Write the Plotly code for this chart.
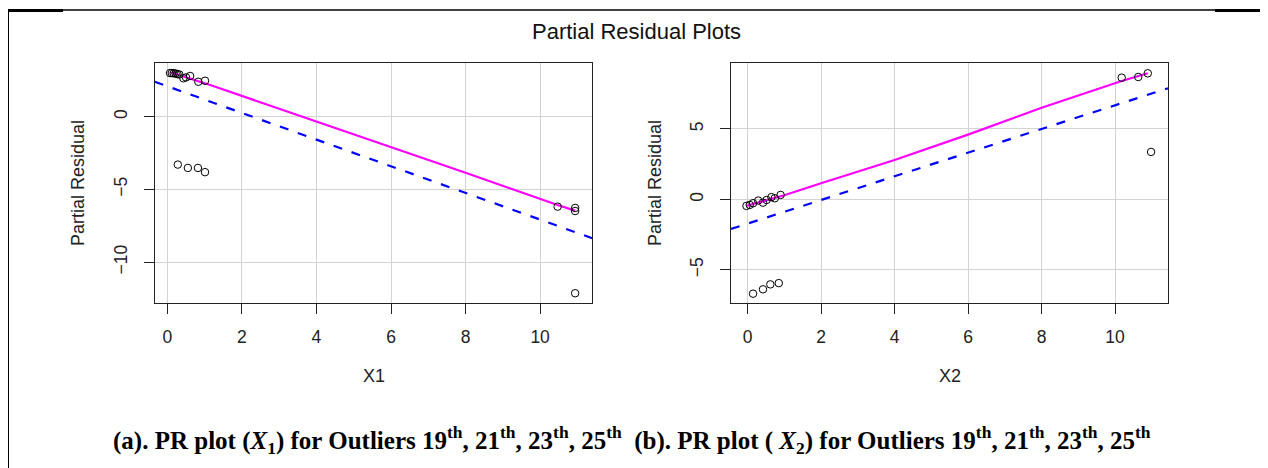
import plotly.graph_objects as go

# ---------------- data ----------------
# Panel (a): X1
x1_pts = [0.07, 0.12, 0.17, 0.22, 0.27, 0.32, 0.43, 0.50, 0.61, 0.83, 1.01,
          0.28, 0.55, 0.82, 1.01,
          10.47, 10.94, 10.94, 10.94]
r1_pts = [3.00, 3.00, 2.98, 2.97, 2.93, 2.90, 2.64, 2.70, 2.80, 2.40, 2.47,
          -3.29, -3.52, -3.52, -3.81,
          -6.18, -6.27, -6.48, -12.13]
x1_smooth = [0.07, 0.50, 1.15, 3.00, 5.71, 8.00, 10.47, 10.94]
r1_smooth = [3.05, 2.70, 2.18, 0.55, -1.83, -3.85, -6.07, -6.45]
x1_fit_intercept = 2.09
x1_fit_slope = -0.916

# Panel (b): X2
x2_pts = [-0.03, 0.06, 0.15, 0.29, 0.42, 0.52, 0.65, 0.74, 0.90,
          0.15, 0.42, 0.62, 0.85,
          10.18, 10.63, 10.89, 10.98]
r2_pts = [-0.46, -0.39, -0.27, -0.08, -0.23, -0.04, 0.16, 0.08, 0.32,
          -6.69, -6.38, -6.03, -5.94,
          8.64, 8.69, 8.95, 3.37]
x2_smooth = [-0.03, 1.00, 2.00, 4.00, 6.00, 8.00, 10.18, 10.89]
r2_smooth = [-0.46, 0.30, 1.15, 2.80, 4.60, 6.50, 8.40, 8.95]
x2_fit_intercept = -1.72
x2_fit_slope = 0.84

x_ticks = [0, 2, 4, 6, 8, 10]
y1_ticks = [-10, -5, 0]
y2_ticks = [-5, 0, 5]

title_text = "Partial Residual Plots"
xlab1, xlab2 = "X1", "X2"
ylab = "Partial Residual"
caption = ("<b>(a). PR plot (<i>X</i><sub>1</sub>) for Outliers 19<sup>th</sup>, 21<sup>th</sup>, "
           "23<sup>th</sup>, 25<sup>th</sup>  (b). PR plot ( <i>X</i><sub>2</sub>) for Outliers "
           "19<sup>th</sup>, 21<sup>th</sup>, 23<sup>th</sup>, 25<sup>th</sup></b>")

# ---------------- layout helpers ----------------
W, H = 1268, 468
OFF = 8  # page body margin
def px(xp):
    return (xp - OFF) / W
def py(yp):
    return 1 - (yp - OFF) / H

x1_range = [-0.34, 11.40]
y1_range = [-12.78, 3.67]
x2_range = [-0.45, 11.44]
y2_range = [-7.33, 9.66]

SANS = "Liberation Sans, Arial, sans-serif"

fig = go.Figure()

def add_panel(xa, ya, xp, yp, xs, ys, icpt, slope, xr):
    fig.add_trace(go.Scatter(
        x=xr, y=[icpt + slope * v for v in xr], mode="lines",
        line=dict(color="#0000FF", width=2.2, dash="9px,10px"),
        xaxis=xa, yaxis=ya, showlegend=False, hoverinfo="skip"))
    fig.add_trace(go.Scatter(
        x=xs, y=ys, mode="lines", line=dict(color="#FF00FF", width=2.2),
        xaxis=xa, yaxis=ya, showlegend=False))
    fig.add_trace(go.Scatter(
        x=xp, y=yp, mode="markers",
        marker=dict(symbol="circle-open", size=7.5, color="black", line=dict(width=1)),
        xaxis=xa, yaxis=ya, showlegend=False))

add_panel("x", "y", x1_pts, r1_pts, x1_smooth, r1_smooth,
          x1_fit_intercept, x1_fit_slope, x1_range)
add_panel("x2", "y2", x2_pts, r2_pts, x2_smooth, r2_smooth,
          x2_fit_intercept, x2_fit_slope, x2_range)

ydom = [py(302.7), py(63.3)]
axis_common = dict(
    showline=True, mirror=True, linecolor="#222222", linewidth=1.3,
    showgrid=True, gridcolor="#D3D3D3", gridwidth=1.2, zeroline=False,
    ticks="outside", ticklen=10, tickwidth=1.3, tickcolor="#222222",
    tickfont=dict(family=SANS, size=17.5, color="#222222"),
)

fig.update_layout(
    width=W, height=H,
    margin=dict(l=0, r=0, t=0, b=0),
    paper_bgcolor="white", plot_bgcolor="white",
    xaxis=dict(domain=[px(154.7), px(592.3)], range=x1_range, tickvals=x_ticks,
               anchor="y", ticklabelstandoff=8, **axis_common),
    yaxis=dict(domain=ydom, range=y1_range, tickvals=y1_ticks, tickangle=-90,
               anchor="x", ticklabelstandoff=10, **axis_common),
    xaxis2=dict(domain=[px(731), px(1168)], range=x2_range, tickvals=x_ticks,
                anchor="y2", ticklabelstandoff=8, **axis_common),
    yaxis2=dict(domain=ydom, range=y2_range, tickvals=y2_ticks, tickangle=-90,
                anchor="x2", ticklabelstandoff=10, **axis_common),
)

ann = []
ann.append(dict(text=title_text, x=px(636), y=py(31), xref="paper", yref="paper",
                showarrow=False, font=dict(family=SANS, size=22, color="#111111"),
                xanchor="center", yanchor="middle"))
for xl, cx in [(xlab1, (154.7 + 592.3) / 2), (xlab2, (731 + 1168) / 2)]:
    ann.append(dict(text=xl, x=px(cx), y=py(376), xref="paper", yref="paper",
                    showarrow=False, font=dict(family=SANS, size=18, color="#222222"),
                    xanchor="center", yanchor="middle"))
for cx in [78, 655]:
    ann.append(dict(text=ylab, x=px(cx), y=py(183), xref="paper", yref="paper",
                    showarrow=False, textangle=-90,
                    font=dict(family=SANS, size=18, color="#222222"),
                    xanchor="center", yanchor="middle"))
ann.append(dict(text=caption, x=px(632), y=py(440), xref="paper", yref="paper",
                showarrow=False,
                font=dict(family="Liberation Serif, Times New Roman, serif", size=25, color="black"),
                xanchor="center", yanchor="middle"))
fig.update_layout(annotations=ann)

# outer frame
shapes = [
    dict(type="line", xref="paper", yref="paper", x0=px(8), x1=1.0, y0=py(10), y1=py(10),
         line=dict(color="black", width=1.5)),
    dict(type="line", xref="paper", yref="paper", x0=px(8), x1=px(8), y0=py(10), y1=0,
         line=dict(color="black", width=2)),
    dict(type="line", xref="paper", yref="paper", x0=px(8), x1=px(63), y0=py(10.5), y1=py(10.5),
         line=dict(color="black", width=3)),
    dict(type="line", xref="paper", yref="paper", x0=px(1215), x1=1.0, y0=py(10.5), y1=py(10.5),
         line=dict(color="black", width=3)),
]
fig.update_layout(shapes=shapes)

fig.write_html("out.html")
